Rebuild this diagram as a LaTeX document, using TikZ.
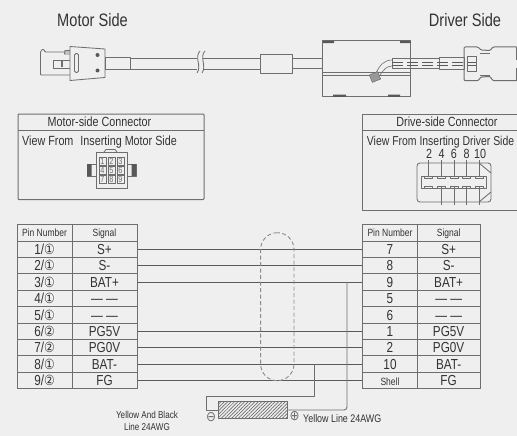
\documentclass[tikz,border=0pt]{standalone}
\usepackage{fontspec}
\setmainfont{Liberation Sans}
\newfontfamily\cf[FakeStretch=.81]{Liberation Sans}
\newfontfamily\sy[FakeStretch=.85]{DejaVu Sans}
\usetikzlibrary{patterns.meta}
\definecolor{bgc}{HTML}{EFEFEF}
\definecolor{lin}{HTML}{6E6E6E}
\definecolor{wir}{HTML}{5A5A5A}
\definecolor{txt}{HTML}{333333}
\tikzset{
  ln/.style={draw=lin,line width=.85pt,line join=round},
  thin ln/.style={draw=lin,line width=.6pt,line join=round},
  lbl/.style={inner sep=0pt,text=txt,font=\cf\fontsize{13.3}{15}\selectfont,text height=9.7pt,text depth=0pt},
  big/.style={inner sep=0pt,text=txt,font=\cf\fontsize{18}{20}\selectfont,text height=13pt,text depth=0pt},
  cell/.style={draw=lin,line width=1pt,inner sep=0pt,text=txt,font=\cf\fontsize{14.5}{16}\selectfont,text height=10.4pt,text depth=0pt},
  headc/.style={cell,font=\cf\fontsize{10.5}{12}\selectfont,text height=8pt},
  note/.style={inner sep=0pt,text=txt,font=\cf\fontsize{10}{12.3}\selectfont,align=center},
  wire/.style={draw=wir,line width=.8pt},
  pad/.style={fill=lin!80!black,draw=none},
  tinyn/.style={draw=lin,line width=.45pt,inner sep=0pt,minimum width=7.5pt,minimum height=8pt,text=lin,font=\cf\fontsize{9}{9}\selectfont},
}
\begin{document}
\begin{tikzpicture}[x=1pt,y=-1pt]
\fill[bgc] (0,0) rectangle (517,436);
\useasboundingbox (0,0) rectangle (517,436);

% titles
\node[big] (mside) at (92.5,20) {Motor Side};
\node[big] (dside) at (465,20) {Driver Side};

% motor-side plug
\draw[ln,rounded corners=.8pt] (70,52) -- (45,52) -- (44,49.5) -- (42,49.5) -- (40.5,52) -- (40.5,75) -- (70,75);
\draw[ln] (53,60) rectangle (70,68);
\draw[ln,line width=2.4pt] (62,60.5) -- (62,67.5);
\draw[ln] (70,50.5) -- (65,50.5) -- (64.5,54) -- (70,54);
\draw[ln,fill=bgc] (70,46.5) -- (105,49) -- (105,77.5) -- (70,80.5) -- cycle;
\draw[ln,rounded corners=1.5pt] (74.5,53.5) rectangle (78.5,72.5);
\fill[lin!80!black] (97.5,55) circle (2pt) (97.5,70.5) circle (2pt);
\draw[ln] (105,57.5) rectangle (130,69);
% cable with break
\draw[ln] (130,58) -- (197,58) (130,69) -- (197,69);
\draw[ln] (203,58) -- (260,58) (203,69) -- (260,69);
\draw[ln] (200,51) .. controls (194,57) and (202,66) .. (197,73);
\draw[ln] (205,51) .. controls (199,57) and (207,66) .. (202,73);
\draw[ln] (260,54) rectangle (292.5,73);
\draw[ln] (292.5,58) -- (323,58) (292.5,68) -- (323,68);

% control box
\draw[ln,line width=1pt] (322.7,41) rectangle (410.7,96.7);
\draw[ln] (322.7,72.7) -- (410.7,72.7) (322.7,75.7) -- (410.7,75.7);
\fill[pad] (323,41) rectangle (334,43.2) (400,41) rectangle (410.5,43.2);
\fill[pad] (333,94.7) rectangle (346,96.9) (388,94.7) rectangle (400,96.9);
\draw[ln] (392.3,58) rectangle (439,68.7);
\draw[ln] (439,57.5) rectangle (464,69);
\draw[thin ln] (392.3,60) .. controls (384,60) and (380,65) .. (376,73);
\draw[thin ln] (392.3,66) .. controls (387,66) and (384,69) .. (380,75);
\node[draw=lin,fill=lin!70!white,line width=.5pt,rotate=22,minimum width=9pt,minimum height=8pt,inner sep=0pt] (smallc) at (375,77) {};
\draw[wir,line width=.8pt,dash pattern=on 11pt off 4pt] (392.3,62) -- (476,62) (392.3,65) -- (476,65);

% driver plug
\draw[ln,line width=1pt,rounded corners=1pt] (516.5,47) -- (493,47) -- (490,50.5) -- (481,50) -- (478,47) -- (464,47) -- (464,80.7) -- (478,80.7) -- (481,77) -- (490,76.5) -- (493,80.7) -- (516.5,80.7);
\draw[thin ln] (480,53) -- (490,53) (480,75) -- (490,75);
\draw[ln] (467,56) rectangle (476,71);
\draw[ln,line width=1pt] (516.5,47) -- (516.5,60) (516.5,68) -- (516.5,80.7);

% motor-side connector box
\draw[ln,line width=1pt,rounded corners=.8pt] (18,114) rectangle (204,199.5);
\draw[ln,line width=1pt] (18,130) -- (204,130);
\node[lbl] (mtitle) at (99.5,122) {Motor-side Connector};
\node[lbl,anchor=west] (mview) at (22,140.5) {View From\hspace{.3em} Inserting Motor Side};
% motor connector icon
\draw[ln] (96,152) rectangle (127,188);
\draw[ln] (104,152) -- (106,149.5) -- (115,149.5) -- (117,152);
\draw[ln] (87,164) rectangle (96,176);
\draw[ln] (127,164) rectangle (136,176);
\fill[pad] (87,164) rectangle (91.5,176) (131.5,164) rectangle (136,176);
\foreach \n/\cx/\cy in {1/102.5/161,2/111.5/161,3/120.5/161,4/102.5/170,5/111.5/170,6/120.5/170,7/102.5/179,8/111.5/179,9/120.5/179}
  \node[tinyn] (mc\n) at (\cx,\cy) {\n};

% driver-side connector box
\draw[ln,line width=1pt] (517,114) -- (362,114) -- (362,210) -- (517,210) (362,130) -- (517,130);
\node[lbl] (dtitle) at (447,122) {Drive-side Connector};
\node[lbl,anchor=west,font=\cf\fontsize{12.9}{15}\selectfont] (dview) at (366.7,140.5) {View From Inserting Driver Side};
\foreach \n/\cx in {2/429,4/441.5,6/453.8,8/466.5,10/480}
  \node[lbl] (dn\n) at (\cx,154) {\n};
% driver connector icon
\draw[ln,rounded corners=3pt] (417,163) rectangle (491,202);
\draw[ln,line width=1pt] (421.7,176) rectangle (486,188.3);
\draw[ln] (479,163) -- (491,173) (491,192) -- (479,202);
\foreach \cx in {428,441,454,466.7,479}{
  \draw[ln] (\cx,160) -- (\cx,177);
  \draw[ln] (\cx-4,176.5) -- (\cx-4,178.5) -- (\cx+4,178.5) -- (\cx+4,176.5);
  \draw[ln] (\cx-4,188) -- (\cx-4,186) -- (\cx+4,186) -- (\cx+4,188);
}
\foreach \cx in {441,454,466.7,479}
  \draw[ln] (\cx,186) -- (\cx,205);

% tables
\node[headc,minimum width=55pt,minimum height=16.5pt] (lph) at (44.5,232.75) {Pin Number};
\node[headc,minimum width=65pt,minimum height=16.5pt] (lsh) at (104.5,232.75) {Signal};
\node[headc,minimum width=54.6pt,minimum height=16.5pt] (rph) at (390,232.75) {Pin Number};
\node[headc,minimum width=62.7pt,minimum height=16.5pt] (rsh) at (448.65,232.75) {Signal};
\foreach \i/\c/\s/\r in {1/①/S+/7,2/①/S-/8,3/①/BAT+/9,4/①/— —/5,5/①/— —/6,6/②/PG5V/1,7/②/PG0V/2,8/①/BAT-/10,9/②/FG/{\fontsize{10.5}{12}\selectfont Shell}}{
  \pgfmathsetmacro\yy{241+16.4*(\i-.5)}
  \node[cell,minimum width=55pt,minimum height=16.4pt] (lp\i) at (44.5,\yy) {\i/{\sy\fontsize{14}{15}\selectfont\c}};
  \node[cell,minimum width=65pt,minimum height=16.4pt] (ls\i) at (104.5,\yy) {\s};
  \node[cell,minimum width=54.6pt,minimum height=16.4pt] (rp\i) at (390,\yy) {\r};
  \node[cell,minimum width=62.7pt,minimum height=16.4pt] (rs\i) at (448.65,\yy) {\s};
}
% wires
\foreach \i in {1,2,3,6,7,8,9}
  \draw[wire] (ls\i.east) -- (rp\i.west);

% shield
\node[draw=lin!80,dashed,line width=.9pt,dash pattern=on 4pt off 2.5pt,rounded corners=16.6pt,minimum width=33.3pt,minimum height=148pt,inner sep=0pt] (shield) at (277.3,306.7) {};

% battery
\node[draw=lin,line width=1pt,inner sep=0pt,minimum width=69pt,minimum height=17.3pt,pattern={Lines[angle=45,distance=2.4pt,line width=.7pt]},pattern color=lin] (bat) at (252.8,410.3) {};
\coordinate (bx1) at (347,0);
\coordinate (bx2) at (314,0);
\coordinate (bxl) at (206,0);
\coordinate (bjoin) at (bat.east |- 0,410);
\draw[ln,rounded corners=3pt] (ls3.east -| bx1) -- (bx1 |- bjoin) -- (bjoin);
\coordinate (blj) at (bat.west |- 0,410);
\draw[ln] (ls8.east -| bx2) -- (bx2 |- 0,396) -- (bxl |- 0,396) -- (bxl |- blj) -- (blj);

\node[inner sep=0pt,text=lin,font=\sy\fontsize{14}{15}\selectfont] (minus) at (211,417.5) {⊖};
\node[inner sep=0pt,text=lin,font=\sy\fontsize{14}{15}\selectfont] (plus) at (294.7,416.5) {⊕};
\node[note,anchor=west,font=\cf\fontsize{11}{12.5}\selectfont] (ylab) at (303,418.5) {Yellow Line 24AWG};
\node[note] (yblab) at (147,421) {Yellow And Black\\Line 24AWG};
\end{tikzpicture}
\end{document}
